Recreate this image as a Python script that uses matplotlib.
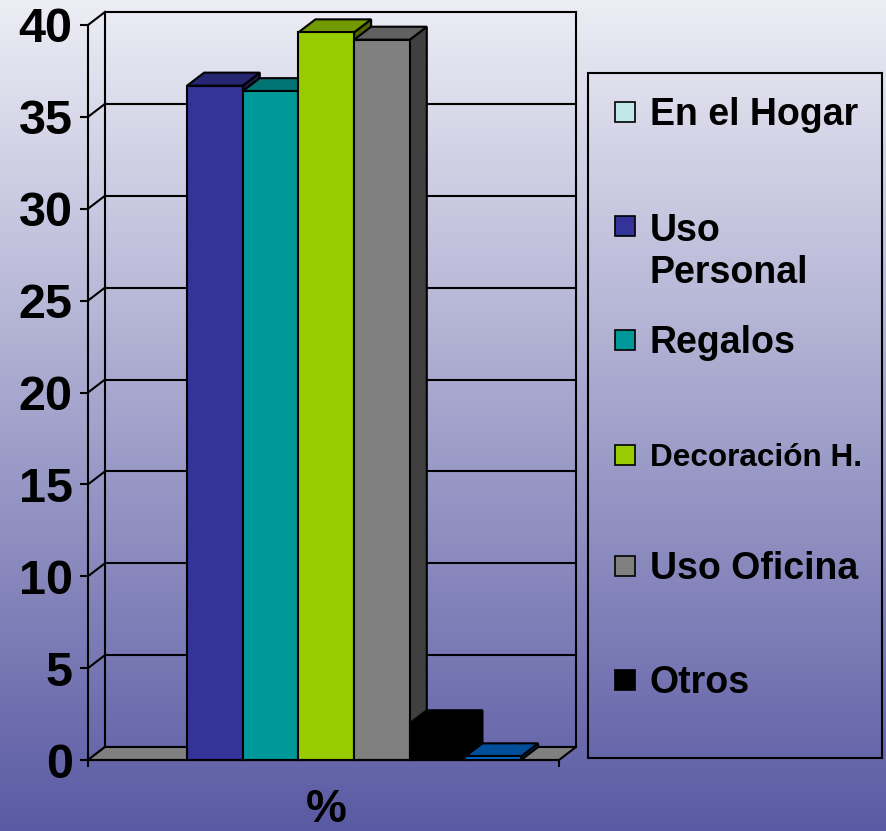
import numpy as np
import matplotlib
matplotlib.use('Agg')
import matplotlib.pyplot as plt
from matplotlib.patches import Polygon, Rectangle
from matplotlib.colors import to_rgb

# ---- data ----
categories = ['En el Hogar', 'Uso Personal', 'Regalos', 'Decoración H.', 'Uso Oficina', 'Otros', '']
values = [0.0, 36.7, 36.4, 39.6, 39.2, 2.0, 0.2]
legend_labels = ['En el Hogar', 'Uso\nPersonal', 'Regalos', 'Decoración H.', 'Uso Oficina', 'Otros']
bar_colors = ['#C0E8E8', '#333399', '#009999', '#99CC00', '#808080', '#000000', '#0066CC']
y_ticks = [0, 5, 10, 15, 20, 25, 30, 35, 40]
x_label = '%'

plt.rcParams['font.family'] = ['Liberation Sans', 'DejaVu Sans']
plt.rcParams['font.weight'] = 'bold'

W, H = 887, 831
fig = plt.figure(figsize=(W / 100, H / 100), dpi=100)

# background gradient
bg = fig.add_axes([0, 0, 1, 1], zorder=0)
top_c = np.array(to_rgb('#EDEDF5'))
bot_c = np.array(to_rgb('#5A5AA4'))
t = np.linspace(0, 1, 256)[:, None]
grad = (top_c[None, :] * (1 - t) + bot_c[None, :] * t)[:, None, :]
bg.imshow(grad, aspect='auto', extent=[0, 1, 0, 1], interpolation='bilinear')
bg.axis('off')

# main axes (front plane)
x0, x1, ytop, ybot = 88, 559, 25, 760
ax = fig.add_axes([x0 / W, (H - ybot) / H, (x1 - x0) / W, (ybot - ytop) / H], zorder=1)
ax.patch.set_visible(False)
xmin, xmax = -0.78, len(values) + 0.68
ymax = y_ticks[-1]
ax.set_xlim(xmin, xmax)
ax.set_ylim(0, ymax)

# depth offsets (pixels -> data)
ppx = (x1 - x0) / (xmax - xmin)
ppy = (ybot - ytop) / ymax
ddx = 17 / ppx
ddy = 13 / ppy

lw = 1.5
# walls and gridlines
for yt in y_ticks:
    ax.plot([xmin + ddx, xmax + ddx], [yt + ddy, yt + ddy], color='black', lw=lw, clip_on=False, zorder=1)
    ax.plot([xmin, xmin + ddx], [yt, yt + ddy], color='black', lw=lw, clip_on=False, zorder=1)
ax.plot([xmin + ddx, xmin + ddx], [ddy, ymax + ddy], color='black', lw=lw, clip_on=False, zorder=1)
ax.plot([xmax + ddx, xmax + ddx], [ddy, ymax + ddy], color='black', lw=lw, clip_on=False, zorder=1)

# floor
floor = Polygon([(xmin, 0), (xmax, 0), (xmax + ddx, ddy), (xmin + ddx, ddy)], closed=True,
                fc='#808080', ec='black', lw=lw, clip_on=False, zorder=2)
ax.add_patch(floor)

# bars
for i, (v, c) in enumerate(zip(values, bar_colors)):
    if v <= 0:
        continue
    base = np.array(to_rgb(c))
    z = 3 + i * 0.1
    side = Polygon([(i + 1, 0), (i + 1 + ddx, ddy), (i + 1 + ddx, v + ddy), (i + 1, v)], closed=True,
                   fc=base * 0.5, ec='black', lw=lw, clip_on=False, zorder=z)
    topf = Polygon([(i, v), (i + 1, v), (i + 1 + ddx, v + ddy), (i + ddx, v + ddy)], closed=True,
                   fc=base * 0.75, ec='black', lw=lw, clip_on=False, zorder=z + 0.01)
    front = Rectangle((i, 0), 1, v, fc=base, ec='black', lw=lw, clip_on=False, zorder=z + 0.02)
    ax.add_patch(side)
    ax.add_patch(topf)
    ax.add_patch(front)

# axes styling
for s in ['top', 'right']:
    ax.spines[s].set_visible(False)
for s in ['left', 'bottom']:
    ax.spines[s].set_linewidth(lw)
    ax.spines[s].set_zorder(10)
ax.set_yticks(y_ticks)
ax.set_yticklabels([str(v) for v in y_ticks], fontsize=35, fontweight='bold')
ax.tick_params(axis='y', direction='out', length=6, width=lw, pad=5)
ax.set_xticks([xmin, xmax])
ax.set_xticklabels(['', ''])
ax.tick_params(axis='x', direction='out', length=5, width=lw)
fig.text(326 / W, 1 - 822 / H, x_label, ha='center', va='baseline', fontsize=33, fontweight='bold')

# legend
fig.patches.append(Rectangle((588 / W, 1 - 758 / H), (882 - 588) / W, (758 - 73) / H,
                             transform=fig.transFigure, fill=False, ec='black', lw=lw))
entry_y = [112, 226, 340, 455, 566, 680]
line_gap = 44
for lab, c, yc in zip(legend_labels, bar_colors, entry_y):
    fs = 22.7 if lab.startswith('Decor') else 27
    cap = fs * 100 / 72 * 0.716
    nlines = lab.count('\n') + 1
    fig.patches.append(Rectangle((615 / W, 1 - (yc + 10) / H), 20 / W, 20 / H,
                                 transform=fig.transFigure, fc=c, ec='black', lw=1.2))
    fig.text(650 / W, 1 - (yc + cap / 2 + (nlines - 1) * line_gap) / H, lab, ha='left', va='baseline',
             fontsize=fs, fontweight='bold', linespacing=1.22)

fig.savefig('out.png', dpi=100)
